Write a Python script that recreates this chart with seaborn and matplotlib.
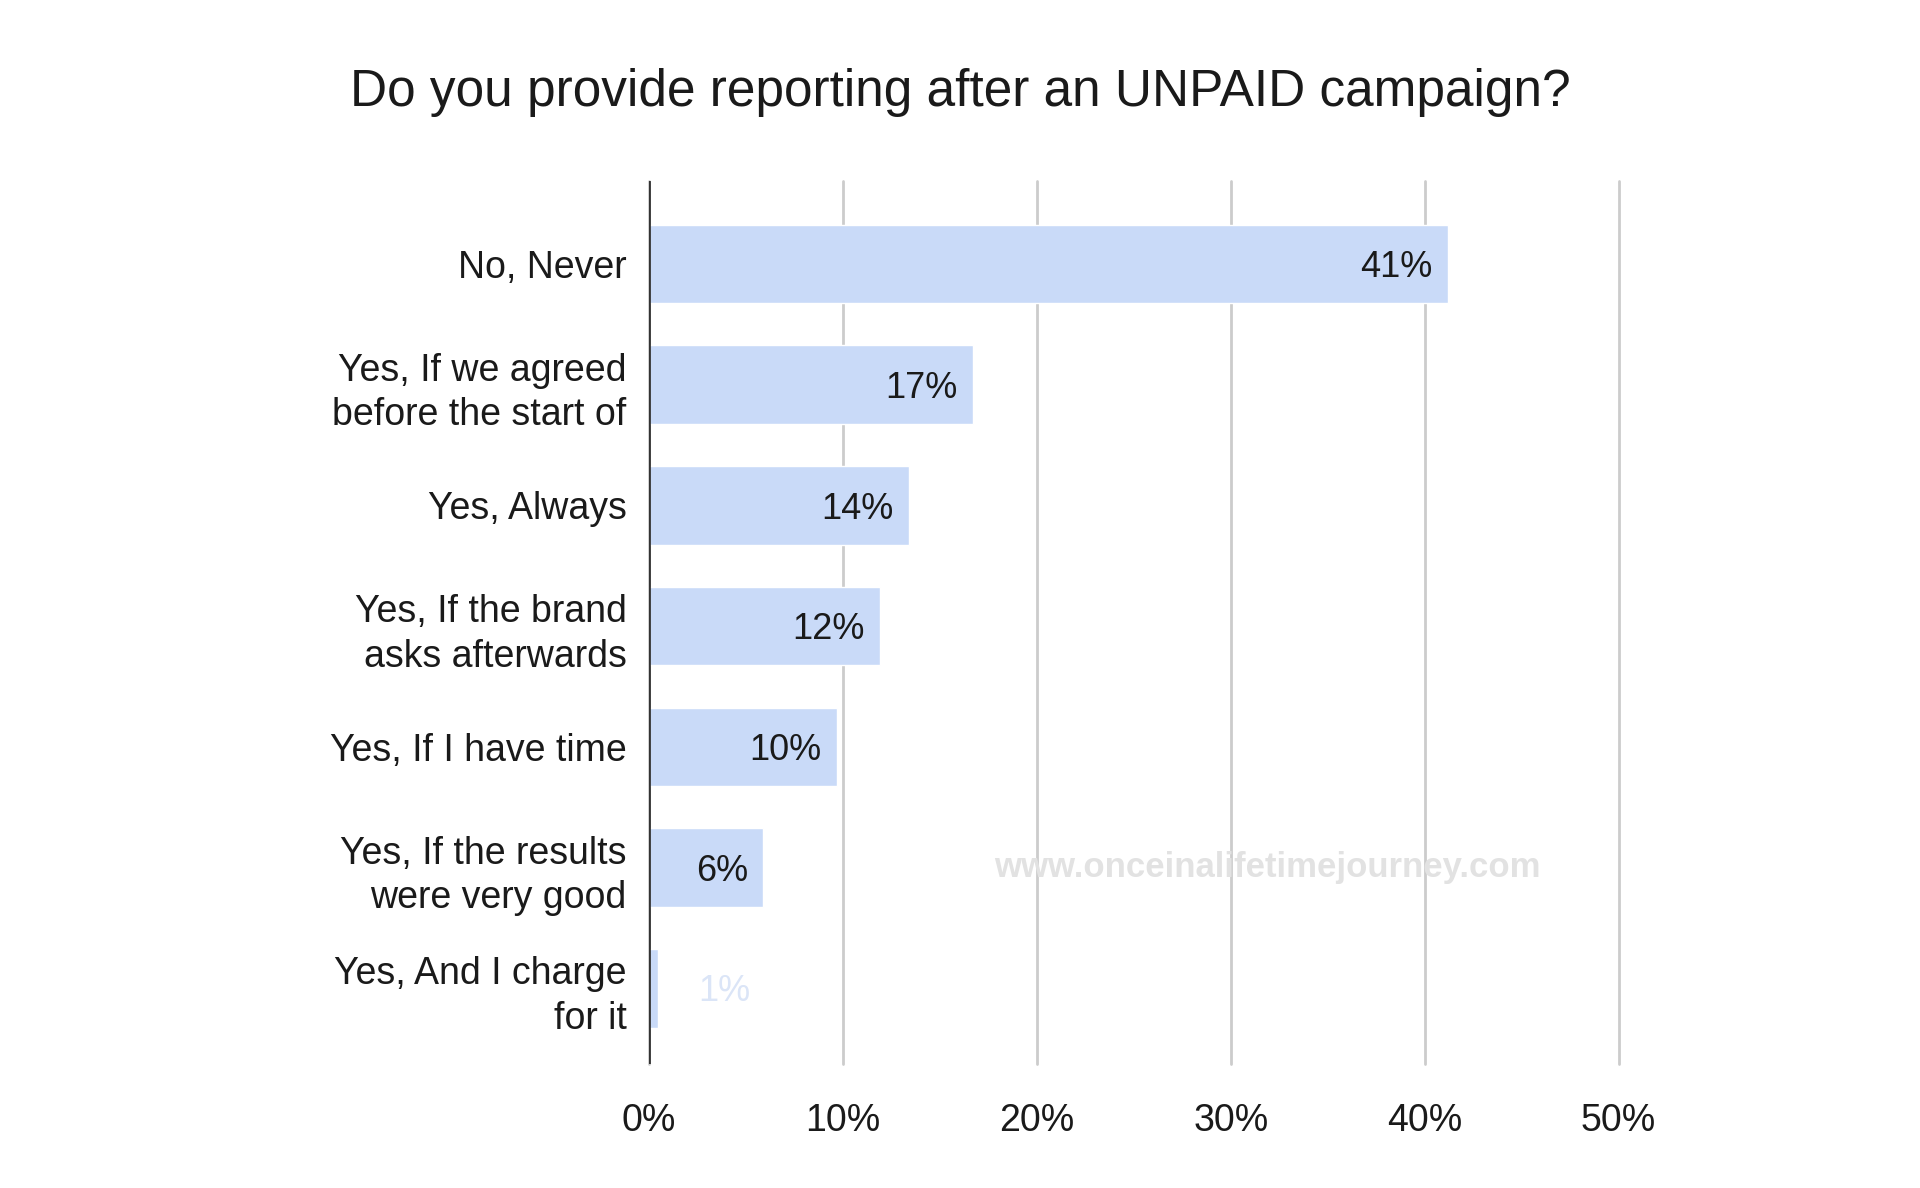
import matplotlib
matplotlib.use("Agg")
import matplotlib.pyplot as plt
import seaborn as sns
import pandas as pd

answers = ["No, Never",
           "Yes, If we agreed\nbefore the start of",
           "Yes, Always",
           "Yes, If the brand\nasks afterwards",
           "Yes, If I have time",
           "Yes, If the results\nwere very good",
           "Yes, And I charge\nfor it"]
shares = [41.2, 16.7, 13.4, 11.9, 9.7, 5.9, 0.45]
share_labels = ["41%", "17%", "14%", "12%", "10%", "6%", "1%"]
ticks = [0, 10, 20, 30, 40, 50]

df = pd.DataFrame({"answer": answers, "share": shares})

sns.set_theme(style="white")
plt.rcParams['font.family'] = ['Liberation Sans', 'DejaVu Sans']

fig = plt.figure(figsize=(19.2, 11.88), dpi=100)
ax = fig.add_axes([0.338, 0.104, 0.505, 0.744])

sns.barplot(data=df, y="answer", x="share", orient="h", color="#c9daf8",
            saturation=1, width=0.65, ax=ax, zorder=3)

ax.set_xlim(0, 50)
ax.set_ylim(6.63, -0.69)
ax.set_xticks(ticks)
ax.set_xticklabels([f"{t}%" for t in ticks])
ax.xaxis.grid(True, color="#cccccc", linewidth=2, zorder=0)
for gl in ax.get_xgridlines():
    gl.set_clip_on(False)
ax.axvline(0, color="#333333", linewidth=2, zorder=4)
for s in ax.spines.values():
    s.set_visible(False)
ax.tick_params(axis="both", length=0, labelsize=27, colors="#1a1a1a")
ax.tick_params(axis="y", pad=16)
ax.tick_params(axis="x", pad=28)
for t in ax.get_yticklabels():
    t.set_linespacing(1.3)
ax.set_xlabel("")
ax.set_ylabel("")

# value labels: inside the bar end, or outside (faded) for tiny bars
for i, (v, lab) in enumerate(zip(shares, share_labels)):
    if v > 3:
        ax.text(v - 0.8, i + 0.03, lab, ha="right", va="center", fontsize=26,
                color="#1a1a1a", zorder=5)
    else:
        ax.text(v + 2.1, i + 0.03, lab, ha="left", va="center", fontsize=26,
                color="#dbe5f7", zorder=5)

ax.text(31.9, 5.0, "www.onceinalifetimejourney.com", ha="center", va="center",
        fontsize=25, color="#e2e2e2", fontweight="bold", zorder=5)

fig.suptitle("Do you provide reporting after an UNPAID campaign?", x=0.5, y=0.943,
             fontsize=37, color="#1a1a1a")

fig.savefig("out.png", dpi=100, facecolor="white")
